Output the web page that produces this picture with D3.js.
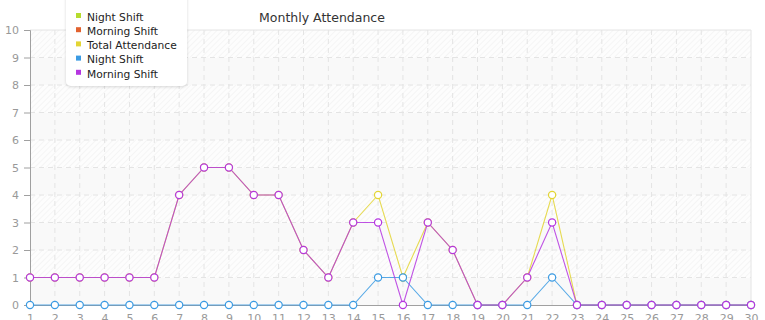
<!DOCTYPE html>
<html>
<head>
<meta charset="utf-8">
<script src="https://cdn.jsdelivr.net/npm/d3@7"></script>
<style>
    body { margin: 0; background: #fff; }
    svg { display: block; font-family: "DejaVu Sans", sans-serif; }
</style>
</head>
<body>
<svg id="chart" width="765" height="320"></svg>
<script>
const days = d3.range(1, 31);
const yTicks = d3.range(0, 11);
const title = 'Monthly Attendance';

const totalAttendance = [1, 1, 1, 1, 1, 1, 4, 5, 5, 4, 4, 2, 1, 3, 4, 1, 3, 2, 0, 0, 1, 4, 0, 0, 0, 0, 0, 0, 0, 0];
const nightShift = [0, 0, 0, 0, 0, 0, 0, 0, 0, 0, 0, 0, 0, 0, 1, 1, 0, 0, 0, 0, 0, 1, 0, 0, 0, 0, 0, 0, 0, 0];
const morningShift = [1, 1, 1, 1, 1, 1, 4, 5, 5, 4, 4, 2, 1, 3, 3, 0, 3, 2, 0, 0, 1, 3, 0, 0, 0, 0, 0, 0, 0, 0];

// first two entries only show up in the legend
const series = [
    { name: 'Night Shift', color: '#b5dc2e', values: nightShift, visible: false },
    { name: 'Morning Shift', color: '#e2622f', values: morningShift, visible: false },
    { name: 'Total Attendance', color: '#e3d534', values: totalAttendance, visible: true },
    { name: 'Night Shift', color: '#3b9be3', values: nightShift, visible: true },
    { name: 'Morning Shift', color: '#b536e0', values: morningShift, visible: true },
];

const margin = { top: 30, right: 14, bottom: 15, left: 30 };
const width = 765 - margin.left - margin.right;
const height = 320 - margin.top - margin.bottom;

const svg = d3.select('#chart');

// hatch pattern for the striped bands
const defs = svg.append('defs');
const pat = defs.append('pattern')
    .attr('id', 'hatch')
    .attr('patternUnits', 'userSpaceOnUse')
    .attr('width', 4)
    .attr('height', 4)
    .attr('patternTransform', 'rotate(45)');
pat.append('rect').attr('width', 4).attr('height', 4).attr('fill', '#fdfdfd');
pat.append('line')
    .attr('x1', 0).attr('y1', 0).attr('x2', 0).attr('y2', 4)
    .attr('stroke', '#f1f1f1').attr('stroke-width', 1.2);

const xScale = d3.scaleLinear().domain([1, 30]).range([0, width]);
const yScale = d3.scaleLinear().domain([0, 10]).range([height, 0]);

const g = svg.append('g').attr('transform', `translate(${margin.left}, ${margin.top})`);

// alternating bands
g.selectAll('rect.band')
    .data(yTicks.slice(0, -1))
    .join('rect')
    .attr('class', 'band')
    .attr('x', 0)
    .attr('width', width)
    .attr('y', d => yScale(d + 1))
    .attr('height', d => yScale(d) - yScale(d + 1))
    .attr('fill', d => (d % 2 === 1 ? 'url(#hatch)' : '#f9f9f9'));

// grid
g.selectAll('line.hgrid')
    .data(yTicks.slice(1))
    .join('line')
    .attr('class', 'hgrid')
    .attr('x1', 0).attr('x2', width)
    .attr('y1', d => yScale(d)).attr('y2', d => yScale(d))
    .attr('stroke', '#e4e4e4')
    .attr('stroke-dasharray', d => (d === 10 ? null : '5,4'));

g.selectAll('line.vgrid')
    .data(days.slice(1))
    .join('line')
    .attr('class', 'vgrid')
    .attr('x1', d => xScale(d)).attr('x2', d => xScale(d))
    .attr('y1', 0).attr('y2', height)
    .attr('stroke', '#e4e4e4')
    .attr('stroke-dasharray', d => (d === 30 ? null : '5,4'));

// axes
const yAxis = g.append('g')
    .call(d3.axisLeft(yScale).tickValues(yTicks).tickSize(6).tickPadding(5));
const xAxis = g.append('g')
    .attr('transform', `translate(0, ${height})`)
    .call(d3.axisBottom(xScale).tickValues(days).tickSize(0).tickPadding(9));

[yAxis, xAxis].forEach(ax => {
    ax.select('.domain').attr('stroke', '#a0a0a0');
    ax.selectAll('.tick line').attr('stroke', '#a0a0a0');
    ax.selectAll('.tick text')
        .attr('fill', '#999')
        .style('font-size', '11px')
        .style('font-family', '"DejaVu Sans", sans-serif');
});

// lines
const line = d3.line()
    .x((d, i) => xScale(days[i]))
    .y(d => yScale(d));

const sg = g.selectAll('g.series')
    .data(series.filter(d => d.visible))
    .join('g')
    .attr('class', 'series');

sg.append('path')
    .attr('fill', 'none')
    .attr('stroke', d => d.color)
    .attr('stroke-opacity', 0.85)
    .attr('stroke-width', 1.1)
    .attr('d', d => line(d.values));

sg.selectAll('circle')
    .data(d => d.values.map((v, i) => ({ v, i, color: d.color })))
    .join('circle')
    .attr('cx', d => xScale(days[d.i]))
    .attr('cy', d => yScale(d.v))
    .attr('r', 3.6)
    .attr('fill', '#fff')
    .attr('stroke', d => d.color)
    .attr('stroke-width', 1.2);

// title
svg.append('text')
    .attr('x', 322)
    .attr('y', 22)
    .attr('text-anchor', 'middle')
    .attr('fill', '#333')
    .style('font-size', '12.5px')
    .text(title);

// legend
const legend = svg.append('g');
defs.append('filter')
    .attr('id', 'shadow')
    .append('feDropShadow')
    .attr('dx', 0).attr('dy', 1).attr('stdDeviation', 1.5)
    .attr('flood-color', '#000').attr('flood-opacity', 0.15);
legend.append('rect')
    .attr('x', 66).attr('y', -10)
    .attr('width', 121).attr('height', 96)
    .attr('rx', 5)
    .attr('fill', '#fff')
    .attr('filter', 'url(#shadow)');

const items = legend.selectAll('g.item')
    .data(series)
    .join('g')
    .attr('class', 'item')
    .attr('transform', (d, i) => `translate(76, ${17 + i * 14.2})`);
items.append('rect')
    .attr('x', 0).attr('y', -4)
    .attr('width', 5).attr('height', 5)
    .attr('fill', d => d.color);
items.append('text')
    .attr('x', 11).attr('y', 0)
    .attr('dy', '0.35em')
    .attr('fill', '#222')
    .style('font-size', '10.7px')
    .text(d => d.name);
</script>
</body>
</html>
